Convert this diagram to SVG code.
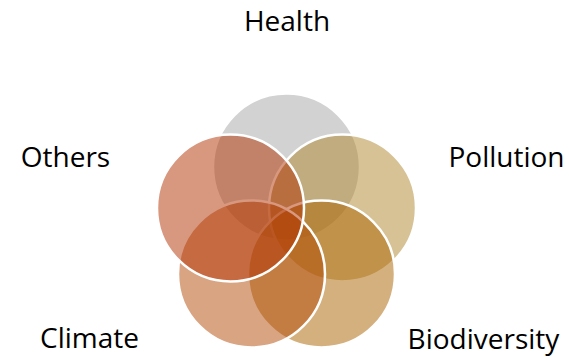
<svg xmlns="http://www.w3.org/2000/svg" width="569" height="357" viewBox="0 0 569 357">
  <style>
    .petal { stroke: #ffffff; stroke-width: 2.5; fill-opacity: 0.5; }
    .label { font-family: "Open Sans", "Noto Sans", sans-serif; font-size: 28px; fill: #000000; text-anchor: middle; }
  </style>
  <rect width="569" height="357" fill="#ffffff"/>
  <!-- five overlapping circles arranged on a pentagon, later ones drawn on top -->
  <g id="health">
    <circle class="petal" cx="286.5" cy="167" r="73.5" fill="#a5a5a5"/>
    <text class="label" x="287" y="31">Health</text>
  </g>
  <g id="pollution">
    <circle class="petal" cx="342.5" cy="208" r="73.5" fill="#ad852b"/>
    <text class="label" x="506.5" y="167">Pollution</text>
  </g>
  <g id="biodiversity">
    <circle class="petal" cx="321.5" cy="274" r="73.5" fill="#ab6100"/>
    <text class="label" x="483.5" y="349">Biodiversity</text>
  </g>
  <g id="climate">
    <circle class="petal" cx="251.5" cy="274" r="73.5" fill="#b14905"/>
    <text class="label" x="89.5" y="348">Climate</text>
  </g>
  <g id="others">
    <circle class="petal" cx="230.5" cy="208" r="73.5" fill="#b12f00"/>
    <text class="label" x="65.5" y="167">Others</text>
  </g>
</svg>
